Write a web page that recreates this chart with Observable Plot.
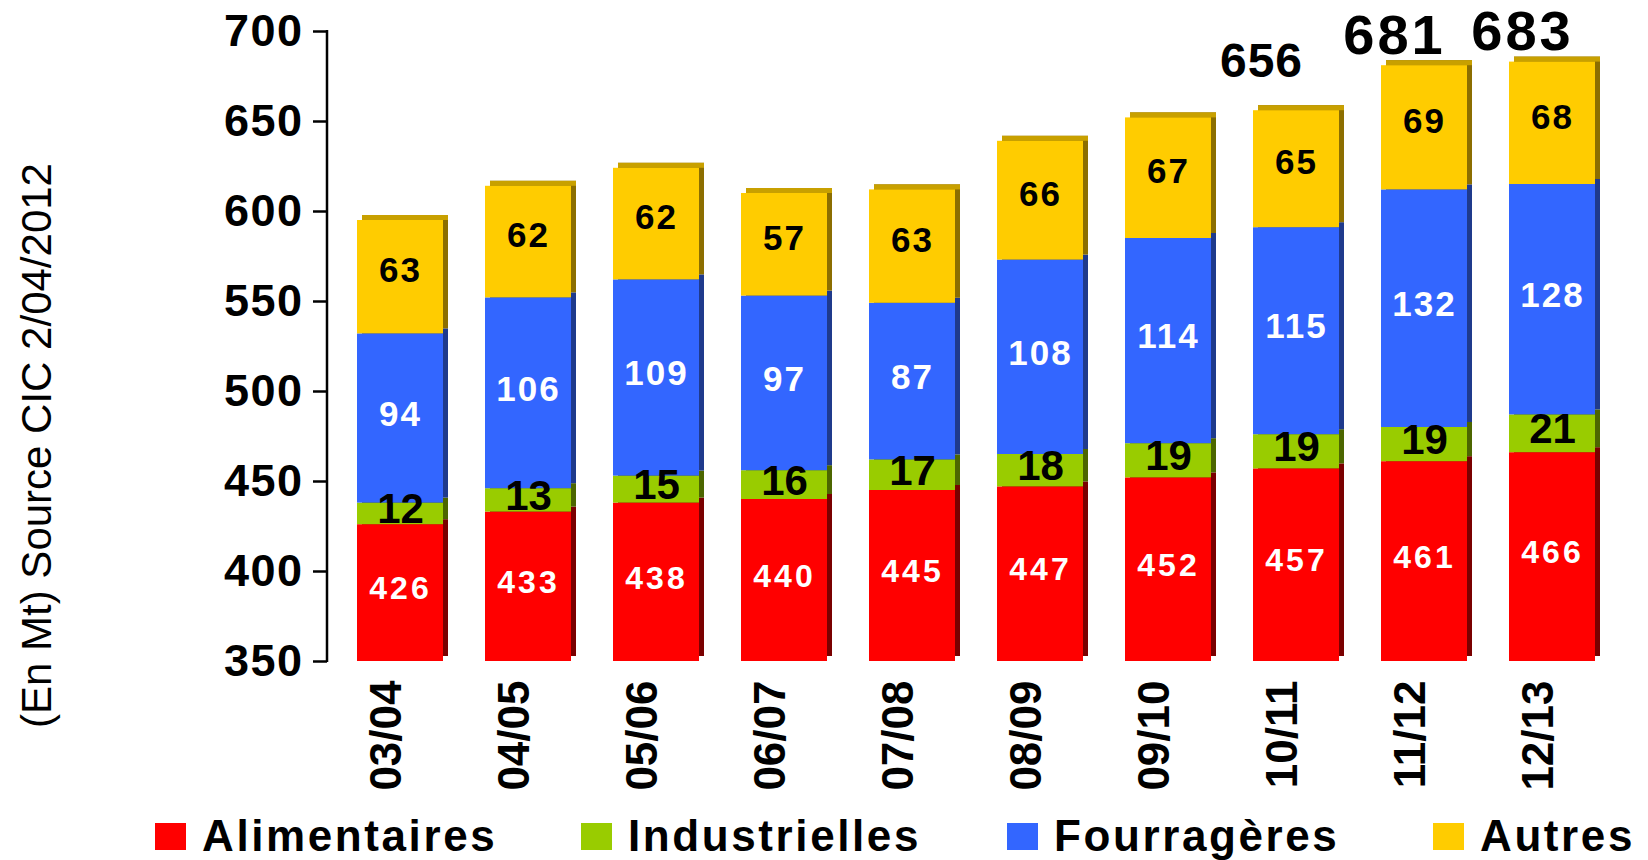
<!DOCTYPE html>
<html>
<head>
<meta charset="utf-8">
<script src="https://cdn.jsdelivr.net/npm/d3@7"></script>
<script src="https://cdn.jsdelivr.net/npm/@observablehq/plot@0.6"></script>
<style>
  html, body { margin: 0; padding: 0; background: #fff; }
  body { width: 1648px; height: 860px; overflow: hidden; font-family: "Liberation Sans", Arial, sans-serif; }
  #legend { display: flex; align-items: center; height: 28px; padding-left: 155px; margin-top: 22px; }
  .item { display: flex; align-items: center; width: 426px; flex: none; }
  .sw { width: 31px; height: 27px; margin-right: 16px; flex: none; }
  .lbl { font-size: 44px; font-weight: bold; line-height: 28px; letter-spacing: 2.6px; color: #000; white-space: nowrap; }
  svg g[font-size="32"] text { letter-spacing: 3px; }
  svg g[font-size="35"] text { letter-spacing: 2px; }
  svg g[font-size="45"] text { letter-spacing: 1.5px; }
  svg g[font-size="56"] text { letter-spacing: 3px; }
  svg g[font-size="48"] text { letter-spacing: 1px; }
</style>
</head>
<body>
<div id="chart"></div>
<div id="legend"></div>
<script>
// ---- data ----
const years = ["03/04","04/05","05/06","06/07","07/08","08/09","09/10","10/11","11/12","12/13"];
const alimentaires  = [426, 433, 438, 440, 445, 447, 452, 457, 461, 466];
const industrielles = [12, 13, 15, 16, 17, 18, 19, 19, 19, 21];
const fourrageres   = [94, 106, 109, 97, 87, 108, 114, 115, 132, 128];
const autres        = [63, 62, 62, 57, 63, 66, 67, 65, 69, 68];
const totalLabels   = [null, null, null, null, null, null, null, 656, 681, 683];
const seriesNames   = ["Alimentaires", "Industrielles", "Fourragères", "Autres"];
const yTicks        = [350, 400, 450, 500, 550, 600, 650, 700];
const yTitle        = "(En Mt) Source CIC 2/04/2012";

// ---- styles ----
const front = {"Alimentaires": "#ff0000", "Industrielles": "#99cc00", "Fourragères": "#3366ff", "Autres": "#ffcc00"};
const side  = {"Alimentaires": "#7a0000", "Industrielles": "#4c6600", "Fourragères": "#1f3a8c", "Autres": "#8c6e00"};
const topFace = "#c8a000";

const seriesValues = [alimentaires, industrielles, fourrageres, autres];
const yMin = yTicks[0], yMax = yTicks[yTicks.length - 1];

const rows = [];
const tops = [];
years.forEach((yr, i) => {
  let cum = 0;
  seriesNames.forEach((name, k) => {
    const v = seriesValues[k][i];
    const y1 = k === 0 ? yMin : cum;
    const y2 = cum + v;
    rows.push({year: yr, cat: name, value: v, y1, y2, mid: (y1 + y2) / 2});
    cum = y2;
  });
  tops.push({year: yr, total: cum, label: totalLabels[i]});
});
const labeled = tops.filter(d => d.label != null);
const firstLabeled = labeled.slice(0, 1);
const otherLabeled = labeled.slice(1);

const font = "Liberation Sans, Arial, sans-serif";

const chart = Plot.plot({
  width: 1648,
  height: 800,
  marginLeft: 327,
  marginRight: 23,
  marginTop: 31,
  marginBottom: 139,
  style: {fontFamily: font, background: "#fff", overflow: "visible"},
  x: {domain: years, paddingInner: 0.325, paddingOuter: 0.194},
  y: {domain: [yMin, yMax]},
  color: {type: "identity"},
  marks: [
    // 3D side faces
    Plot.barY(rows, {x: "year", y1: "y1", y2: "y2", fill: d => side[d.cat], inset: 0, dx: 5, dy: -5}),
    // 3D top faces
    Plot.barY(tops, {x: "year", y1: "total", y2: "total", fill: topFace, inset: 0, insetTop: -5, dx: 5}),
    // front faces
    Plot.barY(rows, {x: "year", y1: "y1", y2: "y2", fill: d => front[d.cat], inset: 0}),
    // segment labels
    Plot.text(rows.filter(d => d.cat === "Alimentaires"), {x: "year", y: "mid", text: "value", fill: "#fff", fontSize: 32, fontWeight: "bold", dy: -4}),
    Plot.text(rows.filter(d => d.cat === "Industrielles"), {x: "year", y: "mid", text: "value", fill: "#000", fontSize: 42, fontWeight: "bold", dy: -4}),
    Plot.text(rows.filter(d => d.cat === "Fourragères"), {x: "year", y: "mid", text: "value", fill: "#fff", fontSize: 35, fontWeight: "bold", dy: -4}),
    Plot.text(rows.filter(d => d.cat === "Autres"), {x: "year", y: "mid", text: "value", fill: "#000", fontSize: 35, fontWeight: "bold", dy: -6}),
    // totals
    Plot.text(firstLabeled, {x: "year", y: "total", text: "label", fontSize: 48, fontWeight: "bold", fill: "#000", dx: -35, dy: -49}),
    Plot.text(otherLabeled, {x: "year", y: "total", text: "label", fontSize: 56, fontWeight: "bold", fill: "#000", dx: -30, dy: -30}),
    // axes
    Plot.axisY({ticks: yTicks, tickSize: 14, tickPadding: 10, fontSize: 45, fontWeight: "bold", strokeWidth: 2.5, label: null, fill: "#000", stroke: "#000"}),
    Plot.axisX({tickSize: 0, tickPadding: 19, tickRotate: -90, fontSize: 44, fontWeight: "bold", label: null, fill: "#000", dx: -14}),
    // y title
    Plot.text([yTitle], {frameAnchor: "left", text: d => d, rotate: -90, textAnchor: "middle", fontSize: 42, fill: "#000", dx: -290, dy: 99})
  ]
});
document.getElementById("chart").appendChild(chart);

// y axis line, placed with the plot's own scales
const xs = chart.scale("x"), ys = chart.scale("y");
d3.select(chart).append("line")
  .attr("x1", xs.range[0]).attr("x2", xs.range[0])
  .attr("y1", ys.apply(yMin) + 1).attr("y2", ys.apply(yMax) - 1)
  .attr("stroke", "#000").attr("stroke-width", 2.5);

// legend
const legend = d3.select("#legend");
seriesNames.forEach(name => {
  const it = legend.append("div").attr("class", "item");
  it.append("div").attr("class", "sw").style("background", front[name]);
  it.append("div").attr("class", "lbl").text(name);
});
</script>
</body>
</html>
